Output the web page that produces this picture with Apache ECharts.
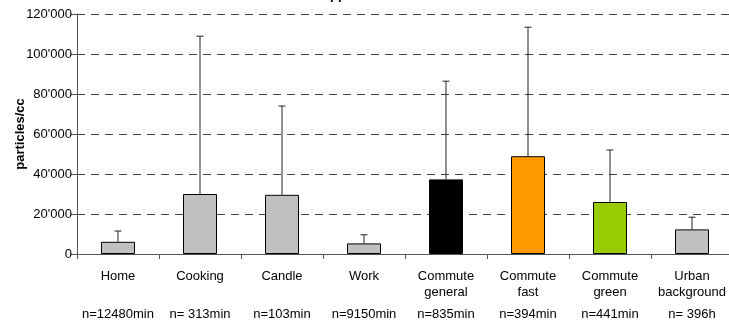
<!DOCTYPE html>
<html>
<head>
<meta charset="utf-8">
<script src="https://cdn.jsdelivr.net/npm/echarts@6/dist/echarts.min.js"></script>
<style>
html,body{margin:0;padding:0;background:#fff;}
#chart{width:729px;height:322px;}
</style>
</head>
<body>
<div id="chart"></div>
<script>
var categories = ['Home', 'Cooking', 'Candle', 'Work', 'Commute\ngeneral', 'Commute\nfast', 'Commute\ngreen', 'Urban\nbackground'];
var nLabels = ['n=12480min', 'n= 313min', 'n=103min', 'n=9150min', 'n=835min', 'n=394min', 'n=441min', 'n= 396h'];
var means = [6100, 30000, 29600, 5300, 37300, 48900, 26000, 12300];
var errorTops = [11500, 108900, 74000, 9600, 86400, 113400, 52000, 18400];
var barColors = ['#c0c0c0', '#c0c0c0', '#c0c0c0', '#c0c0c0', '#000000', '#ff9900', '#99cc00', '#c0c0c0'];
var yTicks = [0, 20000, 40000, 60000, 80000, 100000, 120000];

var FONT = 'Liberation Sans, Arial, sans-serif';

function fmt(v) {
  var s = String(v);
  return s.replace(/\B(?=(\d{3})+(?!\d))/g, "'");
}

var chart = echarts.init(document.getElementById('chart'), null, {renderer: 'canvas'});

var option = {
  animation: false,
  backgroundColor: '#ffffff',
  textStyle: {fontFamily: FONT},
  graphic: [{
    type: 'text',
    left: 330,
    top: -11,
    style: {text: 'pp', fontFamily: FONT, fontSize: 13, fontWeight: 'bold', fill: '#000'}
  }],
  grid: {left: 77, top: 14, width: 656, bottom: 68, containLabel: false, outerBoundsMode: 'none'},
  xAxis: [{
    type: 'category',
    data: categories,
    axisLine: {lineStyle: {color: '#555', width: 1}},
    axisTick: {show: true, length: 5, lineStyle: {color: '#555'}},
    axisLabel: {color: '#000', fontSize: 13, fontFamily: FONT, margin: 14, lineHeight: 16, interval: 0},
    splitLine: {show: false}
  }, {
    type: 'category',
    data: nLabels,
    position: 'bottom',
    axisLine: {show: false},
    axisTick: {show: false},
    axisLabel: {color: '#000', fontSize: 13, fontFamily: FONT, margin: 54, interval: 0},
    splitLine: {show: false}
  }],
  yAxis: {
    type: 'value',
    min: 0,
    max: 120000,
    interval: 20000,
    name: 'particles/cc',
    nameLocation: 'middle',
    nameGap: 50,
    nameRotate: 90,
    nameMoveOverlap: false,
    nameTextStyle: {color: '#000', fontSize: 13, fontWeight: 'bold', fontFamily: FONT},
    axisLine: {show: true, lineStyle: {color: '#555', width: 1}},
    axisTick: {show: true, length: 6, lineStyle: {color: '#555'}},
    axisLabel: {color: '#000', fontSize: 13, fontFamily: FONT, margin: 5, formatter: function (v) { return fmt(v); }},
    splitLine: {show: true, lineStyle: {color: '#444', type: [8, 6], width: 1}}
  },
  series: [{
    type: 'bar',
    data: means.map(function (v, i) {
      return {value: v, itemStyle: {color: barColors[i]}};
    }),
    barWidth: 34,
    itemStyle: {borderColor: '#000', borderWidth: 1},
    z: 2
  }, {
    type: 'custom',
    data: means.map(function (v, i) { return [i, v, errorTops[i]]; }),
    renderItem: function (params, api) {
      var i = api.value(0);
      var p0 = api.coord([i, api.value(1)]);
      var p1 = api.coord([i, api.value(2)]);
      var capHalf = 3.5;
      return {
        type: 'group',
        children: [{
          type: 'line',
          shape: {x1: p0[0], y1: p0[1], x2: p1[0], y2: p1[1]},
          style: {stroke: '#222', lineWidth: 1}
        }, {
          type: 'line',
          shape: {x1: p1[0] - capHalf, y1: p1[1], x2: p1[0] + capHalf, y2: p1[1]},
          style: {stroke: '#222', lineWidth: 1}
        }]
      };
    },
    z: 3
  }]
};
chart.setOption(option);
</script>
</body>
</html>
